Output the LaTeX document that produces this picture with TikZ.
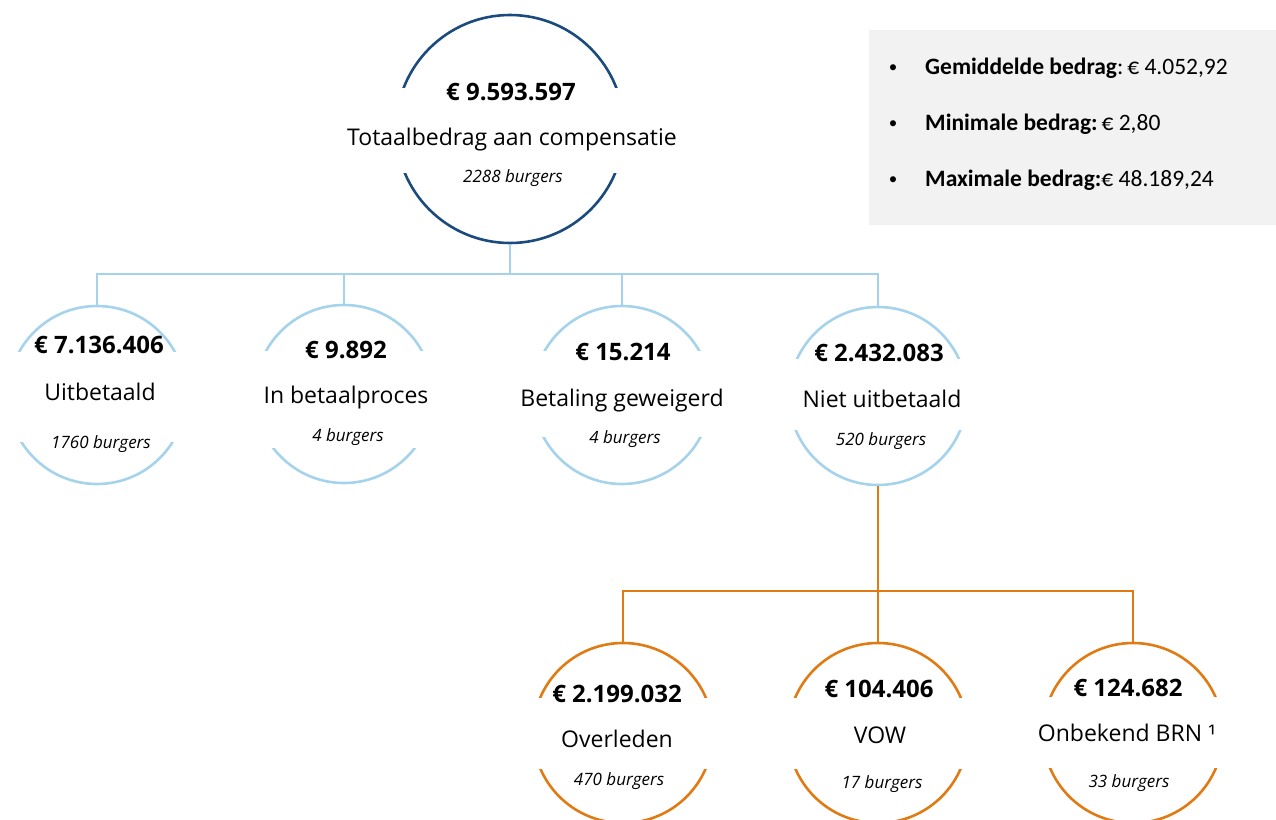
\documentclass[tikz,border=0pt]{standalone}
\usepackage{fontspec}
\setmainfont{Open Sans}
\newfontfamily\boxfont{Carlito}
\definecolor{dblue}{HTML}{1B4B7C}
\definecolor{lblue}{HTML}{A6D3EC}
\definecolor{orng}{HTML}{E07B14}
\definecolor{boxgray}{HTML}{F2F2F2}
\begin{document}
\begin{tikzpicture}[x=1pt,y=-1pt,
  ring/.style={circle, inner sep=0pt, line width=2.6pt},
  amt/.style={font=\fontsize{24}{28}\selectfont\bfseries, anchor=base, inner sep=0pt},
  lbl/.style={font=\fontsize{23}{28}\selectfont, anchor=base, inner sep=0pt},
  cnt/.style={font=\fontsize{17}{20}\selectfont\itshape, anchor=base, inner sep=0pt},
  lconn/.style={draw=lblue, line width=1.6pt},
  oconn/.style={draw=orng, line width=1.5pt},
  btxt/.style={font=\boxfont\fontsize{23.5}{28}\selectfont, anchor=base west, inner sep=0pt},
  bul/.style={font=\boxfont\fontsize{17}{20}\selectfont, anchor=base, inner sep=0pt}]
\useasboundingbox (0,0) rectangle (1276,819);
% stats box
\node[fill=boxgray, minimum width=407pt, minimum height=195pt, inner sep=0pt, anchor=north west] (stats) at (869,30) {};
\node[bul] (b1) at (893,72) {•};
\node[btxt] (t1) at (925,74) {\textbf{Gemiddelde bedrag}:\,€ 4.052,92};
\node[bul] (b2) at (893,128) {•};
\node[btxt] (t2) at (925,130) {\textbf{Minimale bedrag:}\,€ 2,80};
\node[bul] (b3) at (893,184) {•};
\node[btxt] (t3) at (925,186) {\textbf{Maximale bedrag:}€ 48.189,24};
% rings
\node[ring, draw=dblue, minimum size=228pt] (tot) at (510,129) {};
\node[ring, draw=lblue, minimum size=178pt] (u) at (97,395) {};
\node[ring, draw=lblue, minimum size=178pt] (b) at (344,394) {};
\node[ring, draw=lblue, minimum size=178pt] (g) at (622,395) {};
\node[ring, draw=lblue, minimum size=178pt] (n) at (878,396) {};
\node[ring, draw=orng, minimum size=180pt] (o) at (623,733) {};
\node[ring, draw=orng, minimum size=180pt] (v) at (878,733) {};
\node[ring, draw=orng, minimum size=180pt] (k) at (1133,733) {};
% white masks over ring sides
\fill[white] (380,88) rectangle (640,173);
\fill[white] (-3,352) rectangle (197,442);
\fill[white] (244,351) rectangle (444,448);
\fill[white] (522,351) rectangle (722,437);
\fill[white] (778,359) rectangle (978,430);
\fill[white] (523,698) rectangle (723,769);
\fill[white] (778,698) rectangle (978,769);
\fill[white] (1033,697) rectangle (1233,768);
% texts
\node[amt] (tota) at (511,100) {€ 9.593.597};
\node[lbl] (totl) at (512,145) {Totaalbedrag aan compensatie};
\node[cnt] (totc) at (513,182) {2288 burgers};
\node[amt] (ua) at (99,353) {€ 7.136.406};
\node[lbl] (ul) at (100,400) {Uitbetaald};
\node[cnt] (uc) at (101,448) {1760 burgers};
\node[amt] (ba) at (346,358) {€ 9.892};
\node[lbl] (bl) at (346,403) {In betaalproces};
\node[cnt] (bc) at (348,441) {4 burgers};
\node[amt] (ga) at (623,360) {€ 15.214};
\node[lbl] (gl) at (622,406) {Betaling geweigerd};
\node[cnt] (gc) at (625,443) {4 burgers};
\node[amt] (na) at (879,361) {€ 2.432.083};
\node[lbl] (nl) at (882,407) {Niet uitbetaald};
\node[cnt] (nc) at (881,445) {520 burgers};
\node[amt] (oa) at (617,702) {€ 2.199.032};
\node[lbl] (ol) at (617,747) {Overleden};
\node[cnt] (oc) at (619,785) {470 burgers};
\node[amt] (va) at (879,697) {€ 104.406};
\node[lbl] (vl) at (880,743) {VOW};
\node[cnt] (vc) at (882,788) {17 burgers};
\node[amt] (ka) at (1128,696) {€ 124.682};
\node[lbl] (kl) at (1127,741) {Onbekend BRN ¹};
\node[cnt] (kc) at (1129,787) {33 burgers};
% connectors
\coordinate (j1) at (510,274);
\draw[lconn] (tot.south) -- (j1);
\draw[lconn] (j1) -| (u.north);
\draw[lconn] (j1) -| (b.north);
\draw[lconn] (j1) -| (g.north);
\draw[lconn] (j1) -| (n.north);
\coordinate (j2) at (878,591);
\draw[oconn] (n.south) -- (j2);
\draw[oconn] (j2) -| (o.north);
\draw[oconn] (j2) -- (v.north);
\draw[oconn] (j2) -| (k.north);
\end{tikzpicture}
\end{document}
